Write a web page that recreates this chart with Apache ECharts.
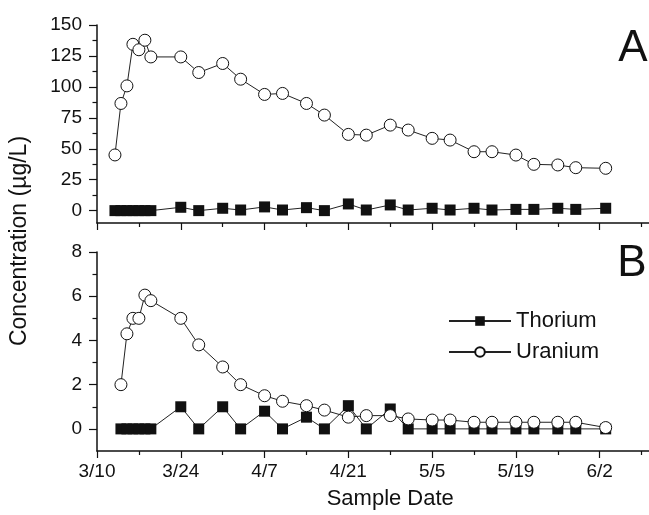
<!DOCTYPE html>
<html>
<head>
<meta charset="utf-8">
<script src="https://cdn.jsdelivr.net/npm/echarts@6/dist/echarts.min.js"></script>
<style>
html, body { margin: 0; padding: 0; background: #fff; }
#main { width: 649px; height: 515px; }
</style>
</head>
<body>
<div id="main"></div>
<script>
// panel A (top)
var datesA = ['3/13','3/14','3/15','3/16','3/17','3/18','3/19','3/24','3/27','3/31','4/3','4/7','4/10','4/14',
  '4/17','4/21','4/24','4/28','5/1','5/5','5/8','5/12','5/15','5/19','5/22','5/26','5/29','6/3'];
var uraniumA = [45, 86.6, 100.8, 134.4, 130, 137.7, 124.2, 124.2, 111.6, 118.9, 106.2, 93.9, 94.7, 86.6,
  77.2, 61.6, 61, 69.1, 65.1, 58.4, 57, 47.6, 47.6, 44.9, 37.4, 36.9, 34.7, 34.2];
var thoriumA = [0, 0, 0, 0, 0, 0, 0, 2.7, 0, 1.9, 0.5, 3, 0.5, 2.4,
  0, 5.4, 0.5, 4.6, 0.5, 1.9, 0.5, 1.9, 0.5, 1, 1, 1.9, 1, 1.9];

// panel B (bottom)
var datesB = ['3/14','3/15','3/16','3/17','3/18','3/19','3/24','3/27','3/31','4/3','4/7','4/10','4/14',
  '4/17','4/21','4/24','4/28','5/1','5/5','5/8','5/12','5/15','5/19','5/22','5/26','5/29','6/3'];
var uraniumB = [2.0, 4.3, 5.0, 5.0, 6.05, 5.8, 5.0, 3.8, 2.8, 2.0, 1.5, 1.25, 1.05,
  0.85, 0.53, 0.6, 0.6, 0.45, 0.4, 0.4, 0.3, 0.3, 0.3, 0.3, 0.3, 0.3, 0.06];
var thoriumB = [0, 0, 0, 0, 0, 0, 1.0, 0, 1.0, 0, 0.8, 0, 0.53,
  0, 1.05, 0, 0.9, 0, 0, 0, 0, 0, 0, 0, 0, 0, 0];

var xTickLabels = ['3/10','3/24','4/7','4/21','5/5','5/19','6/2'];
var yTicksA = [0, 25, 50, 75, 100, 125, 150];
var yMinorA = [12.5, 37.5, 62.5, 87.5, 112.5, 137.5];
var yTicksB = [0, 2, 4, 6, 8];
var yMinorB = [1, 3, 5, 7];

var FONT = '"Liberation Sans", Arial, sans-serif';
var INK = '#111';

// days since 3/10
function dayOf(s) {
  var p = s.split('/');
  return (Date.UTC(2003, p[0] - 1, +p[1]) - Date.UTC(2003, 2, 10)) / 86400000;
}
function pairs(dates, vals) {
  return dates.map(function (d, i) { return [dayOf(d), vals[i]]; });
}

function xAxisFor(gridIndex, showLabels) {
  return {
    type: 'value', gridIndex: gridIndex, min: 0, max: 98, interval: 14,
    axisLine: { onZero: false, lineStyle: { color: INK, width: 1.5 } },
    axisTick: { length: 7, lineStyle: { color: INK, width: 1.2 } },
    minorTick: { show: true, splitNumber: 2, length: 4, lineStyle: { color: INK, width: 1.2 } },
    splitLine: { show: false },
    axisLabel: {
      show: showLabels, margin: 11, fontSize: 19, color: INK, fontFamily: FONT,
      formatter: function (v) { return xTickLabels[v / 14] || ''; }
    },
    name: showLabels ? 'Sample Date' : '',
    nameLocation: 'middle', nameGap: 37,
    nameTextStyle: { fontSize: 22, color: INK, fontFamily: FONT }
  };
}
function yAxisMain(gridIndex, min, max, ticks) {
  return {
    type: 'value', gridIndex: gridIndex, min: min, max: max, position: 'left',
    axisLine: { show: true, onZero: false, lineStyle: { color: INK, width: 1.5 } },
    axisTick: { show: true, length: 8, customValues: ticks, lineStyle: { color: INK, width: 1.2 } },
    axisLabel: { customValues: ticks, margin: 15, fontSize: 19, color: INK, fontFamily: FONT },
    splitLine: { show: false }
  };
}
function yAxisMinor(gridIndex, min, max, ticks) {
  return {
    type: 'value', gridIndex: gridIndex, min: min, max: max, position: 'left', offset: 0,
    axisLine: { show: false },
    axisTick: { show: true, length: 4.5, customValues: ticks, lineStyle: { color: INK, width: 1.2 } },
    axisLabel: { show: false },
    splitLine: { show: false }
  };
}
function thoriumSeries(xi, yi, data) {
  return {
    name: 'Thorium', type: 'line', xAxisIndex: xi, yAxisIndex: yi, data: data,
    symbol: 'rect', symbolSize: 11, z: 2,
    itemStyle: { color: INK },
    lineStyle: { color: '#222', width: 1 },
    emphasis: { disabled: true }
  };
}
function uraniumSeries(xi, yi, data) {
  return {
    name: 'Uranium', type: 'line', xAxisIndex: xi, yAxisIndex: yi, data: data,
    symbol: 'circle', symbolSize: 12, z: 3,
    itemStyle: { color: '#fff', borderColor: INK, borderWidth: 1 },
    lineStyle: { color: '#222', width: 1 },
    emphasis: { disabled: true }
  };
}

var option = {
  animation: false,
  backgroundColor: '#fff',
  grid: [
    { left: 97, width: 586.5, top: 25, height: 198, outerBoundsMode: 'none', containLabel: false },
    { left: 97, width: 586.5, top: 252, height: 199, outerBoundsMode: 'none', containLabel: false }
  ],
  xAxis: [xAxisFor(0, false), xAxisFor(1, true)],
  yAxis: [
    yAxisMain(0, -10, 150, yTicksA),
    yAxisMinor(0, -10, 150, yMinorA),
    yAxisMain(1, -1, 8, yTicksB),
    yAxisMinor(1, -1, 8, yMinorB)
  ],
  legend: {
    data: ['Thorium', 'Uranium'],
    orient: 'vertical', left: 443, top: 305,
    itemWidth: 62, itemHeight: 12, itemGap: 9,
    textStyle: { fontSize: 22, color: INK, fontFamily: FONT }
  },
  graphic: [
    { type: 'text', x: 20, y: 241, rotation: Math.PI / 2,
      style: { text: 'Concentration (\u00b5g/L)', fontSize: 23, fontFamily: FONT, fill: INK,
        textAlign: 'center', textVerticalAlign: 'middle' } },
    { type: 'text', x: 633, y: 49,
      style: { text: 'A', fontSize: 44, fontFamily: FONT, fill: INK, textAlign: 'center', textVerticalAlign: 'middle' } },
    { type: 'text', x: 632, y: 264,
      style: { text: 'B', fontSize: 44, fontFamily: FONT, fill: INK, textAlign: 'center', textVerticalAlign: 'middle' } }
  ],
  series: [
    thoriumSeries(0, 0, pairs(datesA, thoriumA)),
    uraniumSeries(0, 0, pairs(datesA, uraniumA)),
    thoriumSeries(1, 2, pairs(datesB, thoriumB)),
    uraniumSeries(1, 2, pairs(datesB, uraniumB))
  ]
};

var myChart = echarts.init(document.getElementById('main'));
myChart.setOption(option);
</script>
</body>
</html>
